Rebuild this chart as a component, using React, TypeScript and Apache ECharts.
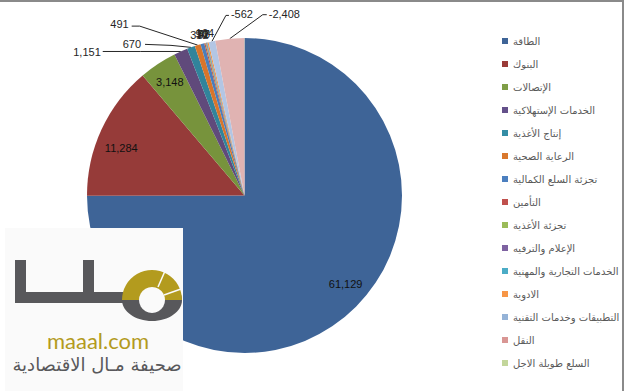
import React, { useEffect, useRef } from "react";
import * as echarts from "echarts";

const categories = [
  "الطاقة",
  "البنوك",
  "الإتصالات",
  "الخدمات الإستهلاكية",
  "إنتاج الأغذية",
  "الرعاية الصحية",
  "تجزئة السلع الكمالية",
  "التأمين",
  "تجزئة الأغذية",
  "الإعلام والترفيه",
  "الخدمات التجارية والمهنية",
  "الادوية",
  "التطبيقات وخدمات التقنية",
  "النقل",
  "السلع طويلة الاجل",
];
const values = [61129, 11284, 3148, 1151, 670, 491, 312, 96, 71, 57, 48, 104, -562, -2408, 14];
const colors = [
  "#3E6497", "#963B39", "#77933C", "#604A7B", "#31849B", "#D8752B",
  "#4A7EBB", "#BE4B48", "#98B954", "#7D60A0", "#46AAC5", "#F69240",
  "#B3C6E4", "#E0B3B2", "#C3D69B",
];
const legendColors = [
  "#3E6497", "#9A3B38", "#7F9E47", "#64508A", "#348DA5", "#D9782E",
  "#4C7FBF", "#C0504D", "#9BBB59", "#7E62A1", "#4BACC6", "#F79646",
  "#95B3D7", "#D99694", "#C3D69B",
];

const insideLabels = [0, 1, 2];
const leaderLabels = [3, 4, 5, 12, 13];
const clusterLabels = [6, 7, 8, 9, 10, 11];

const fmt = (v: number) => v.toLocaleString("en-US");

export default function App() {
  const ref = useRef<HTMLDivElement>(null);
  useEffect(() => {
    if (!ref.current) return;
    const chart = echarts.init(ref.current, null, { renderer: "svg" });
    const center = [244.5, 195.5];
    const R = 157.5;
    const mainData = categories.map((name, i) => ({
      name,
      value: Math.abs(values[i]),
      itemStyle: { color: colors[i] },
      label: {
        show: leaderLabels.includes(i) || clusterLabels.includes(i),
      },
      labelLine: { show: leaderLabels.includes(i) },
    }));
    const ringData = categories.map((name, i) => ({
      name,
      value: Math.abs(values[i]),
      itemStyle: { color: "rgba(0,0,0,0)" },
      label: { show: insideLabels.includes(i) },
    }));
    chart.setOption({
      animation: false,
      color: legendColors,
      legend: {
        orient: "vertical",
        left: 497,
        top: 30,
        itemWidth: 6,
        itemHeight: 6,
        itemGap: 11,
        icon: "rect",
        data: categories.map((name, i) => ({ name, itemStyle: { color: legendColors[i] } })),
        textStyle: { fontSize: 10, fontFamily: "DejaVu Sans", color: "#595959", lineHeight: 12 },
        selectedMode: false,
      },
      series: [
        {
          type: "pie",
          center,
          radius: R,
          startAngle: 90,
          clockwise: true,
          avoidLabelOverlap: false,
          silent: true,
          data: mainData,
          label: {
            position: "outside",
            fontSize: 11,
            fontFamily: "Liberation Sans",
            color: "#262626",
            formatter: (p: any) => fmt(values[p.dataIndex]),
          },
          labelLine: { length: 10, length2: 10, lineStyle: { color: "#262626", width: 1 } },
          labelLayout: (params: any) => {
            const i = params.dataIndex;
            const pts = params.labelLinePoints;
            if (!pts) return {};
            const e = pts[0];
            const ex = e[0];
            const ey = e[1];
            if (i === 3) {
              return {
                x: ex - 80, y: ey + 1, align: "right", verticalAlign: "middle",
                labelLinePoints: [[ex, ey], [ex - 40, ey], [ex - 78, ey]],
              };
            }
            if (i === 4) {
              return {
                x: ex - 50, y: ey - 3, align: "right", verticalAlign: "middle",
                labelLinePoints: [[ex, ey], [ex - 20, ey - 2], [ex - 46, ey - 3]],
              };
            }
            if (i === 5) {
              return {
                x: ex - 69, y: ey - 21, align: "right", verticalAlign: "middle",
                labelLinePoints: [[ex, ey], [ex - 58, ey - 19], [ex - 66, ey - 19]],
              };
            }
            if (i === 12) {
              return {
                x: ex + 19, y: ey - 27, align: "left", verticalAlign: "middle",
                labelLinePoints: [[ex, ey], [ex + 14, ey - 26], [ex + 17, ey - 26]],
              };
            }
            if (i === 13) {
              return {
                x: ex + 39, y: ey - 25, align: "left", verticalAlign: "middle",
                labelLinePoints: [[ex, ey], [ex + 33, ey - 24], [ex + 37, ey - 24]],
              };
            }
            return { x: ex - 3, y: ey - 9, align: "center", verticalAlign: "middle" };
          },
        },
        {
          type: "pie",
          center,
          radius: [108, R],
          startAngle: 90,
          clockwise: true,
          silent: true,
          data: ringData,
          label: {
            position: "inside",
            fontSize: 11,
            fontFamily: "Liberation Sans",
            color: "#111111",
            formatter: (p: any) => fmt(values[p.dataIndex]),
          },
          labelLine: { show: false },
          labelLayout: (params: any) => {
            if (params.dataIndex === 0) return { dx: 5, dy: -7 };
            if (params.dataIndex === 1) return { dx: 0, dy: 9 };
            return {};
          },
        },
      ],
      graphic: [
        { type: "line", z: 100, shape: { x1: 0, y1: 1, x2: 624, y2: 1 }, style: { stroke: "#8a8a8a", lineWidth: 2 } },
        { type: "line", z: 100, shape: { x1: 623, y1: 0, x2: 623, y2: 391 }, style: { stroke: "#8a8a8a", lineWidth: 2 } },
        { type: "rect", z: 100, shape: { x: 5, y: 228, width: 178, height: 163 }, style: { fill: "#fafafa" } },
        { type: "rect", z: 101, shape: { x: 15, y: 260, width: 11, height: 43 }, style: { fill: "#58585b" } },
        { type: "rect", z: 101, shape: { x: 83, y: 260, width: 11, height: 43 }, style: { fill: "#58585b" } },
        { type: "rect", z: 101, shape: { x: 15, y: 292, width: 110, height: 11 }, style: { fill: "#58585b" } },
        {
          type: "ellipse", z: 104,
          shape: { cx: 152, cy: 300, rx: 30, ry: 21 },
          style: { fill: "#58585b" },
        },
        {
          type: "circle", z: 106,
          shape: { cx: 152, cy: 300, r: 30 },
          style: { fill: "#b39b1e" },
          clipPath: { type: "rect", shape: { x: 120, y: 268, width: 64, height: 32 } },
        },
        {
          type: "circle", z: 107,
          shape: { cx: 152, cy: 300, r: 13 },
          style: { fill: "#fafafa" },
        },
        { type: "line", z: 108, shape: { x1: 158, y1: 287, x2: 165, y2: 271 }, style: { stroke: "#fafafa", lineWidth: 1.5 } },
        { type: "line", z: 108, shape: { x1: 164, y1: 295, x2: 181, y2: 289 }, style: { stroke: "#fafafa", lineWidth: 1.5 } },
        {
          type: "text", z: 108,
          style: {
            x: 98, y: 340, text: "maaal.com", align: "center", verticalAlign: "middle",
            fill: "#b39b1e", fontSize: 22, fontFamily: "Lato",
          },
        },
        {
          type: "text", z: 108,
          style: {
            x: 97, y: 364, text: "صحيفة مـال الاقتصادية", align: "center", verticalAlign: "middle",
            fill: "#58585b", fontSize: 18, fontFamily: "DejaVu Sans",
          },
        },
      ],
    });
    return () => chart.dispose();
  }, []);
  return (
    <div
      ref={ref}
      style={{ position: "absolute", left: 0, top: 0, width: 624, height: 391, background: "#ffffff" }}
    />
  );
}
